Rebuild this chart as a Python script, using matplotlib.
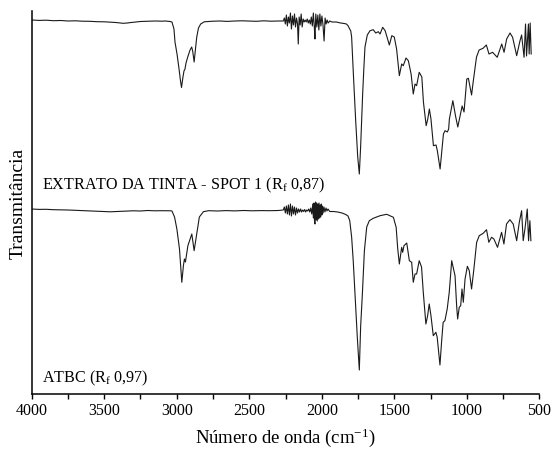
import matplotlib
matplotlib.use("Agg")
import matplotlib.pyplot as plt
from matplotlib.ticker import MultipleLocator

plt.rcParams['font.family'] = ['Liberation Serif', 'DejaVu Serif']
plt.rcParams['mathtext.fontset'] = 'custom'
plt.rcParams['mathtext.rm'] = 'Liberation Serif'
plt.rcParams['mathtext.it'] = 'Liberation Serif:italic'

# ---- upper spectrum: EXTRATO DA TINTA - SPOT 1 (wavenumber cm-1, transmittance a.u.)
extrato_wn = [
    4000, 3950, 3900, 3850, 3800, 3750, 3700, 3650, 3600, 3550, 3500, 3450, 3420, 3390, 3370,
    3340, 3320, 3280, 3250, 3200, 3150, 3100, 3080, 3045,
    3033, 3019, 3012, 2998, 2984, 2974, 2967, 2957, 2950, 2943, 2936, 2922, 2908, 2897,
    2890, 2880, 2872, 2862, 2850, 2835, 2810, 2750, 2700, 2650, 2600, 2550, 2500, 2450,
    2400, 2350, 2300, 2270,
    2265, 2258, 2251, 2244, 2237, 2230, 2223, 2216, 2209, 2202, 2195, 2188, 2181, 2174,
    2167, 2162, 2156, 2149, 2142, 2135, 2128, 2121, 2114, 2107, 2100, 2093, 2086, 2079,
    2072, 2065, 2058, 2051, 2047, 2041, 2034, 2027, 2020, 2013, 2006, 1999, 1992, 1984,
    1977, 1970, 1963, 1956, 1945, 1930, 1900, 1870, 1845, 1830,
    1819, 1800, 1794, 1783, 1766, 1752, 1741, 1732, 1718, 1710, 1702, 1686, 1667, 1645,
    1628, 1610, 1598, 1580, 1563, 1534, 1517, 1500, 1484, 1465, 1449, 1438, 1419, 1403,
    1384, 1369, 1357, 1346, 1328, 1310, 1299, 1280, 1269, 1258, 1247, 1230, 1212, 1203,
    1184, 1173, 1161, 1150, 1134, 1125, 1120, 1096, 1078, 1062, 1046, 1032, 1019, 1000,
    989, 967, 956, 933, 915, 888, 865, 847, 822, 790, 759, 743, 725, 702, 684, 656, 633,
    622, 605, 595, 588, 581, 575, 570, 563, 556,
]
extrato_t = [
    374.0, 373.6, 373.8, 373.3, 373.5, 373.0, 373.2, 372.8, 372.7, 372.3, 372.2, 371.8, 371.5, 371.0, 370.7,
    371.0, 371.4, 372.0, 372.5, 372.8, 373.0, 372.8, 373.0, 372.5,
    372.0, 365.0, 352.0, 340.0, 325.0, 313.0, 306.5, 317.0, 323.0, 325.0, 331.0, 338.0, 344.0, 347.0,
    343.0, 332.0, 343.0, 357.0, 366.0, 370.0, 372.2, 372.8, 373.0, 372.6, 373.0, 373.2, 373.0, 372.7,
    373.2, 372.8, 373.0, 373.0,
    373, 376, 370, 379, 368, 377, 371, 381, 365, 378, 369, 380, 367, 376,
    370, 350, 377, 369, 380, 367, 375, 372, 374, 372, 375, 371, 374, 370,
    377, 368, 381, 366, 355, 380, 367, 379, 364, 380, 368, 378, 370, 353,
    376, 370, 374, 371, 373, 372, 372, 371, 370.5, 370,
    368.3, 363.0, 357.0, 323.0, 273.0, 237.0, 220.0, 247.0, 300.0, 325.0, 347.0, 359.0, 363.3, 364.3,
    361.0, 362.3, 360.0, 366.7, 363.3, 349.0, 358.3, 357.0, 345.0, 318.3, 330.0, 328.3, 336.0, 333.3,
    320.0, 300.0, 310.0, 308.3, 321.7, 317.0, 292.0, 268.3, 275.0, 285.0, 275.0, 248.3, 249.0, 243.3,
    225.0, 242.0, 260.0, 263.3, 262.0, 265.0, 275.0, 293.3, 278.3, 267.0, 278.3, 288.0, 282.0, 315.0,
    315.7, 299.0, 312.0, 337.0, 344.0, 345.7, 349.0, 340.0, 341.7, 336.7, 350.0, 341.7, 355.0, 361.0, 356.7, 338.3, 353.3,
    359.0, 336.7, 370.0, 338.0, 355.0, 370.0, 340.0, 371.0, 340.0,
]

# ---- lower spectrum: ATBC
atbc_wn = [
    4000, 3950, 3900, 3850, 3800, 3750, 3700, 3650, 3600, 3550, 3500, 3459, 3420, 3380,
    3340, 3300, 3250, 3200, 3150, 3100, 3040,
    3033, 3015, 2999, 2981, 2965, 2954, 2947, 2940, 2923, 2896, 2880, 2862, 2844, 2816,
    2780, 2720, 2660, 2600, 2540, 2480, 2420, 2360, 2300,
    2265, 2258, 2251, 2244, 2237, 2230, 2223, 2216, 2209, 2202, 2195, 2188, 2181, 2174,
    2167, 2160, 2153, 2146, 2139, 2132, 2125, 2118, 2111, 2104, 2097, 2090, 2083, 2076,
    2069, 2062, 2058, 2054, 2050, 2047, 2043, 2039, 2035, 2031, 2027, 2023, 2019, 2015,
    2011, 2007, 2003, 1999, 1995, 1991, 1985, 1978, 1971, 1964, 1957, 1945, 1920, 1890,
    1860, 1835,
    1819, 1807, 1794, 1783, 1771, 1755, 1741, 1732, 1720, 1706, 1690, 1672, 1645, 1598,
    1552, 1506, 1487, 1476, 1465, 1449, 1442, 1433, 1414, 1396, 1380, 1369, 1357, 1346,
    1328, 1312, 1300, 1282, 1270, 1259, 1247, 1231, 1213, 1204, 1185, 1174, 1163, 1151,
    1135, 1121, 1104, 1081, 1070, 1063, 1052, 1042, 1033, 1024, 1012, 996, 983, 967,
    951, 932, 914, 887, 864, 848, 829, 813, 788, 760, 744, 726, 703, 680, 656, 638, 622,
    611, 599, 583, 574, 565, 558,
]
atbc_t = [
    185.0, 184.6, 184.7, 184.3, 184.2, 184.0, 183.7, 183.4, 183.0, 182.8, 182.5, 182.2, 182.5, 182.7,
    183.0, 183.2, 183.0, 183.5, 183.2, 183.3, 183.2,
    183.0, 177.0, 165.0, 145.0, 111.7, 128.3, 135.0, 132.0, 148.3, 160.0, 143.3, 160.0, 177.0, 182.3,
    183.3, 183.0, 183.4, 183.1, 183.5, 183.2, 183.4, 183.3, 183.5,
    184, 187, 181, 188, 180, 189, 179, 190, 178, 188, 180, 187, 179, 186,
    181, 185, 182, 185, 182, 184, 182.5, 184.5, 182, 184, 183, 185, 182, 186,
    180, 190, 176, 191, 173, 170, 192, 174, 191, 173, 190, 175, 191, 176,
    189, 177, 190, 179, 188, 181, 187, 182, 186, 183, 185, 182.5, 182.5, 182,
    181, 179.5,
    178.0, 173.3, 157.0, 133.3, 100.0, 57.0, 24.0, 67.0, 100.0, 143.3, 167.0, 173.3, 175.7, 178.3,
    179.7, 176.7, 166.7, 145.0, 130.0, 146.7, 141.7, 148.3, 151.0, 133.3, 131.7, 111.7, 120.0, 120.0,
    133.3, 127.0, 101.7, 70.0, 78.3, 90.0, 78.3, 58.3, 61.7, 56.7, 29.0, 51.7, 71.7, 73.3,
    85.0, 101.7, 133.3, 118.3, 88.3, 75.0, 86.7, 88.3, 105.0, 91.7, 115.0, 127.7, 123.3, 105.0,
    125.0, 151.7, 158.3, 160.7, 164.3, 151.7, 156.7, 155.0, 146.7, 161.7, 150.0, 170.0, 174.3, 170.0, 153.3, 171.7, 183.3,
    153.3, 165.0, 185.0, 153.3, 173.3, 153.3,
]

xticks = [4000, 3500, 3000, 2500, 2000, 1500, 1000, 500]
label_top = r'EXTRATO DA TINTA - SPOT 1 (R$_\mathrm{f}$ 0,87)'
label_bottom = r'ATBC (R$_\mathrm{f}$ 0,97)'

W, H = 553, 452
fig = plt.figure(figsize=(W / 100, H / 100), dpi=100)
ax = fig.add_axes([31.7 / W, (H - 395) / H, (539.3 - 31.7) / W, (395 - 12) / H])

ax.plot(extrato_wn, extrato_t, color='#1a1a1a', lw=0.8)
ax.plot(atbc_wn, atbc_t, color='#1a1a1a', lw=0.8)

ax.set_xlim(4000, 500)
ax.set_ylim(0, 383)
ax.set_xticks(xticks)
ax.set_xticklabels([str(v) for v in xticks])
ax.xaxis.set_minor_locator(MultipleLocator(250))
ax.tick_params(axis='x', which='both', direction='out', length=3.6, width=1.0,
               labelsize=11.5, pad=2.5, colors='black')
ax.set_yticks([])
for s in ['top', 'right']:
    ax.spines[s].set_visible(False)
for s in ['left', 'bottom']:
    ax.spines[s].set_linewidth(1.1)

ax.text(3931, 205.7, label_top, fontsize=11.6, va='baseline', ha='left')
ax.text(3931, 12.3, label_bottom, fontsize=11.6, va='baseline', ha='left')

fig.text(18 / W, (H - 203.5) / H, 'Transmitância', rotation=90, ha='center', va='center', fontsize=14)
fig.text(285.5 / W, 9.5 / H, r'Número de onda (cm$^{\mathrm{-1}}$)', ha='center', va='baseline', fontsize=13.5)

fig.savefig('out.png', dpi=100)
